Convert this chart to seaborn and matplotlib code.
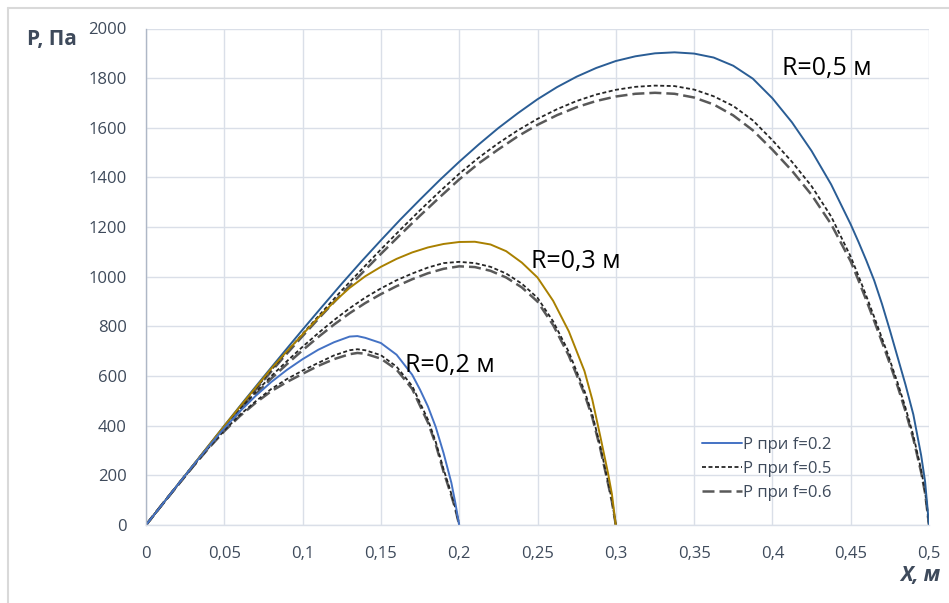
import numpy as np
import pandas as pd
import seaborn as sns
import matplotlib.pyplot as plt
from matplotlib.lines import Line2D

# --- данные ---
# R = 0,5 м
x_r05 = [0, 0.0125, 0.025, 0.0375, 0.05, 0.0625, 0.075, 0.0875, 0.1, 0.1125, 0.125, 0.1375,
         0.15, 0.1625, 0.175, 0.1875, 0.2, 0.2125, 0.225, 0.2375, 0.25, 0.2625, 0.275, 0.2875,
         0.3, 0.3125, 0.325, 0.3375, 0.35, 0.3625, 0.375, 0.3875, 0.4, 0.4125, 0.425, 0.4375,
         0.45, 0.455, 0.46, 0.465, 0.47, 0.475, 0.48, 0.485, 0.49, 0.495, 0.4975, 0.5]
p_r05_f02 = [0, 100, 200, 300, 400, 499, 596, 692, 787, 880, 972, 1061,
             1147, 1231, 1311, 1389, 1463, 1533, 1599, 1659, 1715, 1764, 1806, 1841,
             1869, 1888, 1900, 1904, 1899, 1883, 1850, 1798, 1719, 1622, 1507, 1372,
             1211, 1140, 1065, 985, 890, 785, 675, 565, 445, 280, 175, 0]
p_r05_f05 = [0, 100, 199, 298, 396, 492, 587, 680, 770, 858, 945, 1028,
             1110, 1190, 1268, 1343, 1415, 1480, 1538, 1590, 1636, 1675, 1708, 1734,
             1753, 1765, 1770, 1768, 1754, 1727, 1688, 1630, 1550, 1463, 1365, 1243,
             1081, 1003, 922, 838, 752, 664, 572, 472, 360, 222, 135, 0]
p_r05_f06 = [0, 100, 199, 297, 394, 489, 582, 673, 761, 847, 931, 1012,
             1092, 1170, 1246, 1320, 1392, 1457, 1513, 1566, 1612, 1651, 1683, 1708,
             1726, 1737, 1741, 1737, 1722, 1694, 1650, 1590, 1512, 1427, 1330, 1212,
             1062, 985, 905, 822, 737, 650, 558, 458, 347, 212, 128, 0]

# R = 0,3 м
x_r03 = [0, 0.01, 0.02, 0.03, 0.04, 0.05, 0.06, 0.07, 0.08, 0.09, 0.1,
         0.11, 0.12, 0.13, 0.14, 0.15, 0.16, 0.17, 0.18, 0.19, 0.2,
         0.21, 0.22, 0.23, 0.24, 0.25, 0.26, 0.27, 0.28,
         0.285, 0.29, 0.295, 0.2975, 0.3]
p_r03_f02 = [0, 80, 160, 240, 320, 399, 477, 553, 630, 700, 768,
             835, 898, 955, 1002, 1040, 1072, 1098, 1118, 1132, 1140,
             1141, 1130, 1103, 1057, 997, 903, 780, 620,
             505, 360, 210, 125, 0]
p_r03_f05 = [0, 80, 159, 238, 316, 392, 465, 535, 600, 660, 718,
             773, 825, 873, 916, 953, 986, 1013, 1037, 1055, 1060,
             1055, 1040, 1013, 972, 915, 820, 697, 540,
             445, 320, 175, 100, 0]
p_r03_f06 = [0, 80, 158, 236, 313, 388, 459, 527, 590, 648, 704,
             757, 807, 853, 894, 930, 962, 990, 1014, 1032, 1042,
             1039, 1024, 997, 957, 900, 805, 682, 527,
             433, 310, 168, 95, 0]

# R = 0,2 м
x_r02 = [0, 0.01, 0.02, 0.03, 0.04, 0.05, 0.06, 0.07, 0.08, 0.09, 0.1,
         0.11, 0.12, 0.13, 0.135, 0.14, 0.15, 0.16, 0.17,
         0.175, 0.18, 0.185, 0.19, 0.195, 0.1975, 0.2]
p_r02_f02 = [0, 80, 160, 239, 316, 390, 458, 520, 576, 625, 668,
             706, 736, 759, 761, 754, 733, 686, 605,
             545, 478, 395, 290, 170, 90, 0]
p_r02_f05 = [0, 80, 159, 236, 311, 381, 444, 498, 548, 588, 622,
             653, 683, 704, 708, 704, 684, 638, 560,
             492, 425, 335, 225, 125, 70, 0]
p_r02_f06 = [0, 80, 158, 235, 309, 378, 439, 492, 539, 576, 609,
             641, 668, 688, 693, 690, 670, 626, 548,
             480, 413, 325, 215, 118, 65, 0]

x_ticks = [0, 0.05, 0.1, 0.15, 0.2, 0.25, 0.3, 0.35, 0.4, 0.45, 0.5]
x_tick_labels = ['0', '0,05', '0,1', '0,15', '0,2', '0,25', '0,3', '0,35', '0,4', '0,45', '0,5']
y_ticks = list(range(0, 2001, 200))

series_labels = ['P при f=0.2', 'P при f=0.5', 'P при f=0.6']

sns.set_theme(style='whitegrid')
plt.rcParams['font.family'] = ['Open Sans', 'DejaVu Sans']

text_col = '#3e4a5b'
grid_col = '#dadfe8'

fig, ax = plt.subplots(figsize=(9.49, 6.03), dpi=100)
fig.subplots_adjust(left=146 / 949, right=929 / 949, top=1 - 28.5 / 603, bottom=1 - 525 / 603)

style_f05 = dict(color='#262626', linewidth=1.3, linestyle=(0, (2.2, 1.4)))
style_f06 = dict(color='#595959', linewidth=1.8, linestyle=(0, (4.8, 2.0)))

curves = [
    (x_r05, p_r05_f02, p_r05_f05, p_r05_f06, '#2a5d95'),
    (x_r03, p_r03_f02, p_r03_f05, p_r03_f06, '#a98000'),
    (x_r02, p_r02_f02, p_r02_f05, p_r02_f06, '#4472c4'),
]
for xs, p02, p05, p06, col in curves:
    sns.lineplot(x=xs, y=p06, ax=ax, estimator=None, sort=False, **style_f06)
    sns.lineplot(x=xs, y=p05, ax=ax, estimator=None, sort=False, **style_f05)
    sns.lineplot(x=xs, y=p02, ax=ax, estimator=None, sort=False, color=col, linewidth=1.4)

ax.set_xlim(0, 0.5)
ax.set_ylim(0, 2000)
ax.set_xticks(x_ticks)
ax.set_xticklabels(x_tick_labels)
ax.set_yticks(y_ticks)
ax.tick_params(axis='both', length=0, labelsize=12, colors=text_col)
ax.tick_params(axis='y', pad=14)
ax.tick_params(axis='x', pad=15)
ax.grid(True, color=grid_col, linewidth=1.0)
ax.set_facecolor('white')
for side in ['top', 'right']:
    ax.spines[side].set_visible(False)
ax.spines['left'].set_color('#aeb7c6')
ax.spines['left'].set_linewidth(1.0)
ax.spines['bottom'].set_color(grid_col)
ax.spines['bottom'].set_linewidth(1.0)

# подписи радиусов
ax.text(0.4064, 1813, 'R=0,5 м', fontsize=18, color='black', va='baseline')
ax.text(0.2456, 1034, 'R=0,3 м', fontsize=18, color='black', va='baseline')
ax.text(0.1657, 617, 'R=0,2 м', fontsize=18, color='black', va='baseline')

# подписи осей
fig.text(27 / 949, 1 - 40 / 603, 'P, Па', fontsize=15, fontweight='bold', color=text_col,
         ha='left', va='center')
fig.text(940 / 949, 1 - 576 / 603, 'X, м', fontsize=15, fontweight='bold', fontstyle='italic',
         color=text_col, ha='right', va='center')

# легенда
handles = [
    Line2D([], [], color='#4472c4', linewidth=1.4),
    Line2D([], [], **style_f05),
    Line2D([], [], **style_f06),
]
leg = ax.legend(handles, series_labels, loc='center left', bbox_to_anchor=(0.7097, 0.1128),
                frameon=False, fontsize=12, borderpad=0, borderaxespad=0,
                handlelength=2.4, handletextpad=0.1, labelspacing=0.5)
for t in leg.get_texts():
    t.set_color(text_col)

# рамка диаграммы
fig.add_artist(Line2D([8 / 949, 1], [1 - 8 / 603, 1 - 8 / 603], transform=fig.transFigure,
                      color='#d9d9d9', linewidth=1.5))
fig.add_artist(Line2D([8 / 949, 8 / 949], [0, 1 - 8 / 603], transform=fig.transFigure,
                      color='#d9d9d9', linewidth=1.5))

fig.savefig('out.png', dpi=100, facecolor='white')
